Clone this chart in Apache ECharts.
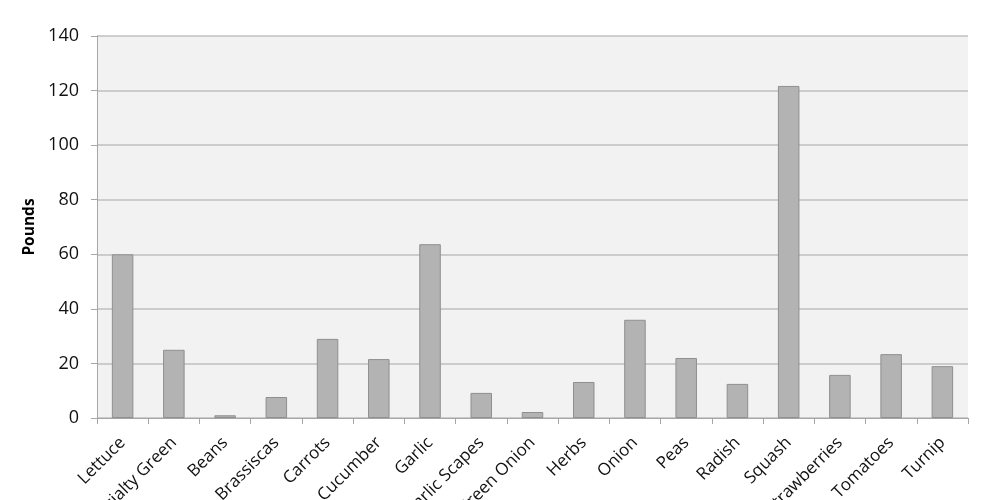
<!DOCTYPE html>
<html><head><meta charset="utf-8">
<script src="https://cdn.jsdelivr.net/npm/echarts@6/dist/echarts.min.js"></script>
<style>html,body{margin:0;padding:0;background:#fff}#c{width:1000px;height:500px}</style>
</head><body><div id="c"></div>
<script>
const categories = ["Lettuce","Specialty Green","Beans","Brassiscas","Carrots","Cucumber","Garlic","Garlic Scapes","Green Onion","Herbs","Onion","Peas","Radish","Squash","Strawberries","Tomatoes","Turnip"];
const pounds = [60,25,1,7.7,29,21.6,63.7,9.2,2.2,13.2,36,22,12.5,121.7,15.8,23.4,19];
const yTicks = [0,20,40,60,80,100,120,140];

const chart = echarts.init(document.getElementById('c'), null, {renderer:'canvas'});
chart.setOption({
  animation:false,
  grid:{left:97,right:32,top:36,bottom:82,show:true,backgroundColor:'#f2f2f2',borderWidth:0,containLabel:false,outerBoundsMode:'none'},
  xAxis:{type:'category',data:categories,
    axisLine:{show:true,lineStyle:{color:'#a6a6a6',width:1}},
    axisTick:{show:true,alignWithLabel:false,length:6,lineStyle:{color:'#a6a6a6'}},
    axisLabel:{rotate:45,interval:0,margin:22,fontFamily:'Open Sans',fontSize:17,color:'#111'}},
  yAxis:{type:'value',min:0,max:140,interval:20,name:'Pounds',nameLocation:'middle',nameGap:52,
    nameTextStyle:{fontFamily:'Open Sans',fontWeight:'bold',fontSize:15.5,color:'#000'},
    axisLine:{show:true,lineStyle:{color:'#a6a6a6'}},
    axisTick:{show:true,length:6,lineStyle:{color:'#a6a6a6'}},
    splitLine:{lineStyle:{color:'#bfbfbf',width:1.5}},
    axisLabel:{margin:18,fontFamily:'Open Sans',fontSize:18,color:'#111',
      formatter:v=>yTicks.includes(v)?String(v):''}},
  series:[{type:'bar',data:pounds,barCategoryGap:'58%',
    itemStyle:{color:'#b3b3b3',borderColor:'#8f8f8f',borderWidth:1}}]
});
</script></body></html>
